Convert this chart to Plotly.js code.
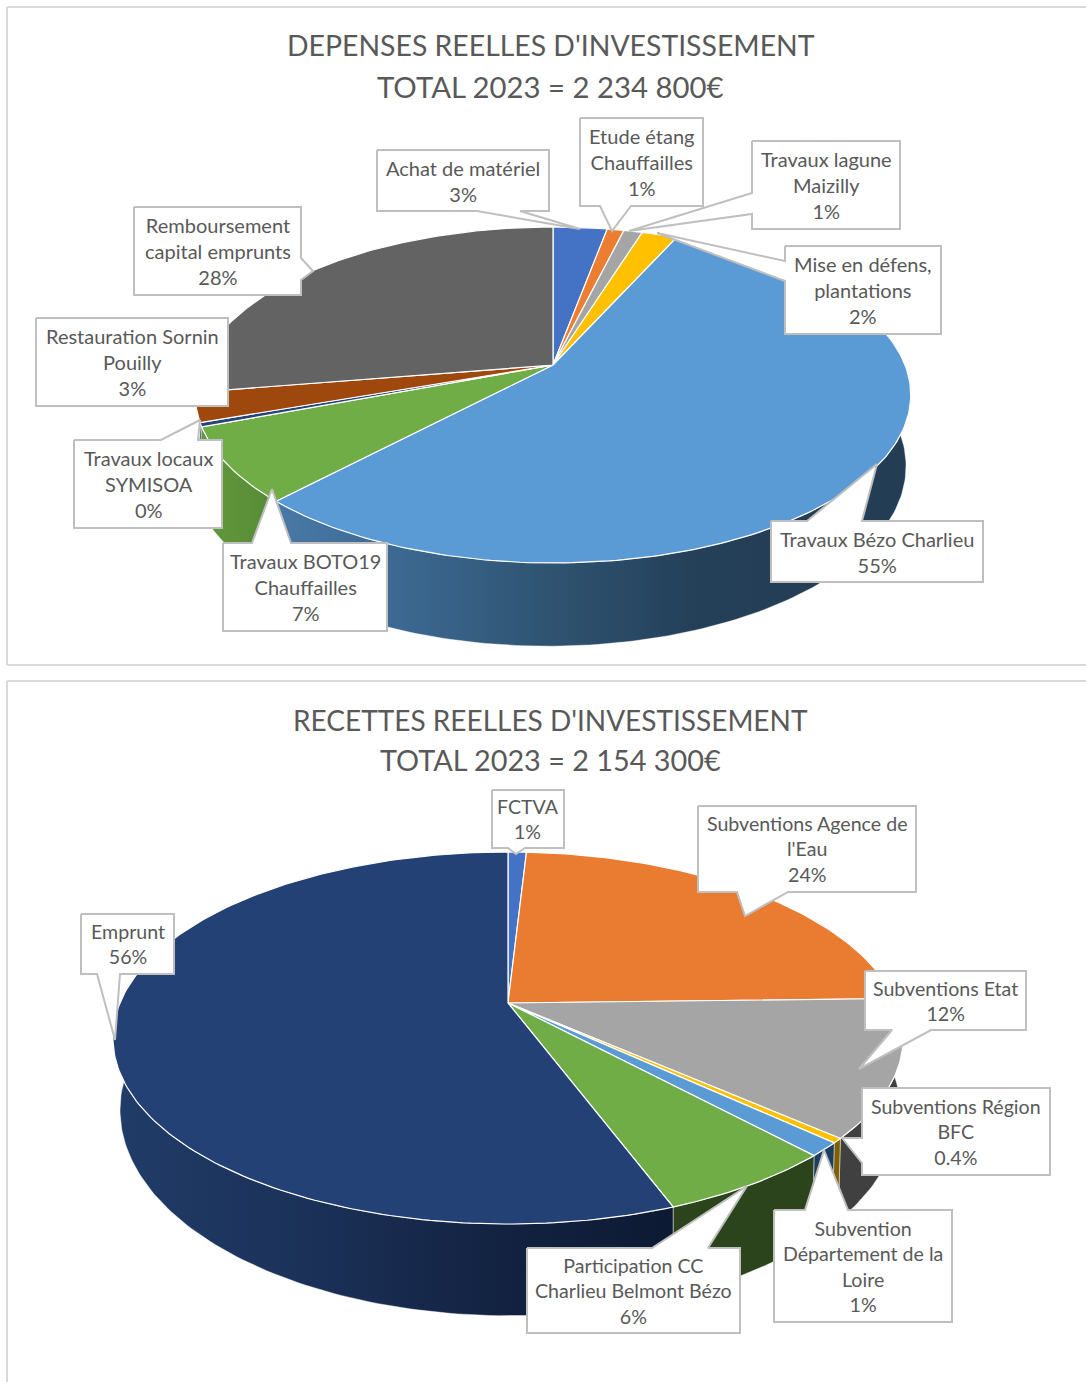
<!DOCTYPE html>
<html>
<head>
<meta charset="utf-8">
<script src="https://cdn.plot.ly/plotly-3.0.1.min.js"></script>
<style>html,body{margin:0;padding:0;background:#fff;overflow:hidden}#chart{width:1086px;height:1382px}</style>
</head>
<body>
<div id="chart"></div>
<script>
// ---------- data: upper chart ----------
const depensesTitle = ["DEPENSES REELLES D'INVESTISSEMENT","TOTAL 2023 = 2 234 800€"];
const depensesCategories = ["Achat de matériel","Etude étang<br>Chauffailles","Travaux lagune<br>Maizilly","Mise en défens,<br>plantations","Travaux Bézo Charlieu","Travaux BOTO19<br>Chauffailles","Travaux locaux<br>SYMISOA","Restauration Sornin<br>Pouilly","Remboursement<br>capital emprunts"];
const depensesValues = [2.9,0.9,1.0,1.9,55.3,7.2,0.4,2.8,27.6];
const depensesPercents = ["3%","1%","1%","2%","55%","7%","0%","3%","28%"];
// ---------- data: lower chart ----------
const recettesTitle = ["RECETTES REELLES D'INVESTISSEMENT","TOTAL 2023 = 2 154 300€"];
const recettesCategories = ["FCTVA","Subventions Agence de<br>l'Eau","Subventions Etat","Subventions Région<br>BFC","Subvention<br>Département de la<br>Loire","Participation CC<br>Charlieu Belmont Bézo","Emprunt"];
const recettesValues = [0.9,23.7,11.9,0.4,1.2,6.2,55.7];
const recettesPercents = ["1%","24%","12%","0.4%","1%","6%","56%"];

// ---------- styles ----------
const depensesColors = ["#4472c4","#ed7d31","#a5a5a5","#ffc000","#5b9bd5","#70ad47","#264478","#9e480e","#636363"];
const depensesWalls = [["#2a4a80","#2a4a80"],["#9a5020","#9a5020"],["#6b6b6b","#6b6b6b"],["#a67c00","#a67c00"],
  [[0,"#4a7aa8"],[0.18,"#3d6a94"],[0.43,"#2f5472"],[0.67,"#243f58"],[1,"#233d54"]],
  [[0,"#639a3e"],[1,"#578a35"]],["#1a2f54","#1a2f54"],["#6e320a","#6e320a"],["#454545","#454545"]];
const recettesColors = ["#4472c4","#e97c30","#a5a5a5","#ffc000","#5b9bd5","#70ad47","#244176"];
const recettesWalls = [["#2a4a80","#2a4a80"],["#9a5020","#9a5020"],["#404040","#404040"],["#7f6000","#7f6000"],["#1d3e5f","#1d3e5f"],["#2b441b","#2b441b"],
  [[0,"#203c68"],[0.35,"#1b3158"],[0.72,"#12213f"],[1,"#0c1a33"]]];

// ---------- projection of each disc (pixels of the page) ----------
const depensesGeom = {k:0.1786, wallTo:250, top:{cx:553,a:352,b:162.6,y0:365}, base:{cx:548,a:352.3,b:174.3,y0:434}};
const recettesGeom = {k:0.1882, wallTo:300, top:{cx:508,a:388,b:179.4,y0:1003}, base:{cx:510,a:383,b:198.7,y0:1071}};

// ---------- callouts, in category order: box [x0,y0,x1,y1], side, pointer base, tip ----------
const depensesCallouts = [
 {box:[377,150,549,211],side:"bottom",p:[477,520],tip:[580,229]},
 {box:[580,118,703,206],side:"bottom",p:[600,631],tip:[612,231]},
 {box:[752,141,900,229],side:"left",p:[193,214],tip:[629,231]},
 {box:[785,246,941,334],side:"left",p:[261,281],tip:[657,233]},
 {box:[771,521,983,582],side:"top",p:[807,862],tip:[877,464]},
 {box:[223,543,387,631],side:"top",p:[252,291],tip:[272,489]},
 {box:[74,440,222,528],side:"top",p:[161,198],tip:[200,420]},
 {box:[36,318,228,406],side:null},
 {box:[134,207,301,295],side:"right",p:[258,280],tip:[313,271]}];
const recettesCallouts = [
 {box:[492,790,564,848],side:"bottom",p:[508,525],tip:[516,854]},
 {box:[698,806,916,892],side:"bottom",p:[737,788],tip:[745,916]},
 {box:[865,971,1026,1030],side:"bottom",p:[892,931],tip:[859,1069]},
 {box:[862,1088,1050,1175],side:"left",p:[1138,1163],tip:[842,1138]},
 {box:[774,1210,952,1322],side:"top",p:[805,848],tip:[824,1150]},
 {box:[527,1248,740,1333],side:"top",p:[652,708],tip:[747,1186]},
 {box:[81,914,174,974],side:"bottom",p:[97,120],tip:[115,1040]}];

const FONT = "Lato, Carlito, Calibri, 'Open Sans', sans-serif";
const TEXT = "#595959", EDGE = "#bfbfbf";

function project(g, plane, deg){
  const t = deg*Math.PI/180, u = Math.sin(t), v = Math.cos(t), s = 1/(1+g.k*v);
  return [plane.cx + plane.a*u*s, plane.y0 - plane.b*v*s];
}
function arc(g, plane, d0, d1){
  const n = Math.max(2, Math.ceil(Math.abs(d1-d0))), pts = [];
  for(let i=0;i<=n;i++) pts.push(project(g, plane, d0+(d1-d0)*i/n));
  return pts;
}
function polyTrace(pts, extra){
  return Object.assign({type:"scatter", mode:"lines", x:pts.map(p=>p[0]), y:pts.map(p=>p[1]),
    fill:"toself", hoverinfo:"skip", showlegend:false}, extra);
}
function pieTraces(names, values, colors, walls, g){
  const total = values.reduce((a,b)=>a+b,0), walled = [], faces = [];
  let acc = 0;
  values.forEach((val,i)=>{
    const d0 = acc/total*360; acc += val; const d1 = acc/total*360;
    const w0 = Math.max(d0,60), w1 = Math.min(d1,g.wallTo);
    if(w1>w0){
      const pts = arc(g,g.top,w0,w1).concat(arc(g,g.base,w1,w0));
      pts.push(pts[0]);
      const grad = Array.isArray(walls[i][0]) ? walls[i] : [[0,walls[i][0]],[1,walls[i][1]]];
      walled.push(polyTrace(pts,{name:names[i],line:{color:"rgba(255,255,255,0.55)",width:0.8},
        fillcolor:grad[0][1],fillgradient:{type:"horizontal",colorscale:grad}}));
    }
    const apex = [g.top.cx,g.top.y0];
    const pts = [apex].concat(arc(g,g.top,d0,d1)); pts.push(apex);
    faces.push(polyTrace(pts,{name:names[i],fillcolor:colors[i],line:{color:"#ffffff",width:1.2}}));
  });
  return walled.concat(faces);
}
function calloutTrace(c){
  const [x0,y0,x1,y1] = c.box; let pts;
  if(c.side==="top") pts=[[x0,y0],[c.p[0],y0],c.tip,[c.p[1],y0],[x1,y0],[x1,y1],[x0,y1]];
  else if(c.side==="right") pts=[[x0,y0],[x1,y0],[x1,c.p[0]],c.tip,[x1,c.p[1]],[x1,y1],[x0,y1]];
  else if(c.side==="bottom") pts=[[x0,y0],[x1,y0],[x1,y1],[c.p[1],y1],c.tip,[c.p[0],y1],[x0,y1]];
  else if(c.side==="left") pts=[[x0,y0],[x1,y0],[x1,y1],[x0,y1],[x0,c.p[1]],c.tip,[x0,c.p[0]]];
  else pts=[[x0,y0],[x1,y0],[x1,y1],[x0,y1]];
  pts.push(pts[0]);
  return polyTrace(pts,{fillcolor:"#ffffff",line:{color:EDGE,width:2}});
}
function calloutLabels(cats, pcts, callouts, size){
  return callouts.map((c,i)=>({xref:"x",yref:"y",x:(c.box[0]+c.box[2])/2,y:(c.box[1]+c.box[3])/2,
    text:cats[i]+"<br>"+pcts[i],showarrow:false,xanchor:"center",yanchor:"middle",align:"center",
    font:{family:FONT,size:size,color:TEXT}}));
}
const titleNote = (text,y,size)=>({xref:"x",yref:"y",x:550.5,y:y,text:text,showarrow:false,xanchor:"center",yanchor:"middle",align:"center",
  font:{family:FONT,size:size,color:TEXT}});

const traces = [].concat(
  pieTraces(depensesCategories,depensesValues,depensesColors,depensesWalls,depensesGeom),
  depensesCallouts.map(calloutTrace),
  pieTraces(recettesCategories,recettesValues,recettesColors,recettesWalls,recettesGeom),
  recettesCallouts.map(calloutTrace)
);
const border = (x0,y0,x1,y1)=>({type:"line",xref:"x",yref:"y",x0,y0,x1,y1,line:{color:"#d9d9d9",width:2},layer:"below"});

Plotly.newPlot("chart",traces,{
  width:1086,height:1382,margin:{l:0,r:0,t:0,b:0},showlegend:false,
  paper_bgcolor:"#ffffff",plot_bgcolor:"#ffffff",
  xaxis:{range:[0,1086],visible:false,fixedrange:true},
  yaxis:{range:[1382,0],visible:false,fixedrange:true},
  shapes:[border(7,7,1086,7),border(7,7,7,665),border(7,665,1086,665),
          border(7,681,1086,681),border(7,681,7,1382)],
  annotations:[titleNote(depensesTitle[0],45,28.4),titleNote(depensesTitle[1],86,29.3),titleNote(recettesTitle[0],720,28),titleNote(recettesTitle[1],760,28.8)]
    .concat(calloutLabels(depensesCategories,depensesPercents,depensesCallouts,20))
    .concat(calloutLabels(recettesCategories,recettesPercents,recettesCallouts,19.6))
},{displayModeBar:false,staticPlot:true});
</script>
</body>
</html>
